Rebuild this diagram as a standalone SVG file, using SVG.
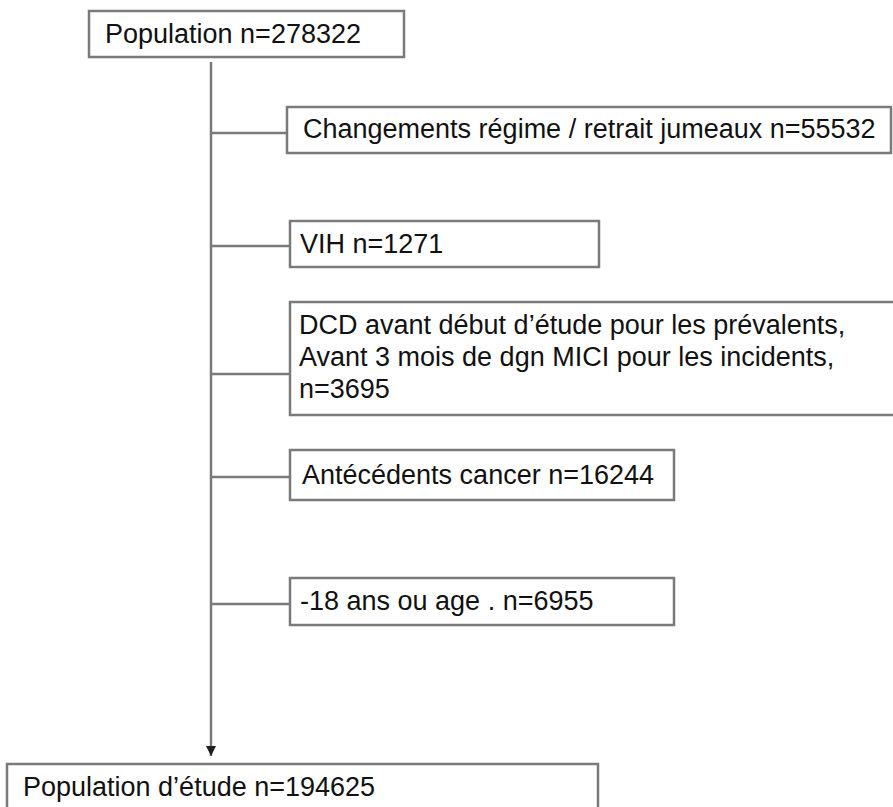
<svg xmlns="http://www.w3.org/2000/svg" width="893" height="807" viewBox="0 0 893 807">
<style>
.box{fill:#fff;stroke:#7a7a7a;stroke-width:2.5}
.lbl{font-family:"Liberation Sans",Arial,sans-serif;font-size:27px;fill:#111}
.con{stroke:#7a7a7a;stroke-width:2.5;fill:none}
</style>
<defs>
<marker id="arr" viewBox="0 0 10 10" refX="10" refY="5" markerWidth="4" markerHeight="4" orient="auto" markerUnits="strokeWidth">
<path d="M0,0 L10,5 L0,10 z" fill="#222"/>
</marker>
</defs>
<rect width="893" height="807" fill="#fff"/>
<g id="connectors">
<line class="con" x1="211" y1="62" x2="211" y2="756" marker-end="url(#arr)"/>
<line class="con" x1="211" y1="133" x2="287" y2="133"/>
<line class="con" x1="211" y1="246" x2="290" y2="246"/>
<line class="con" x1="211" y1="374" x2="290" y2="374"/>
<line class="con" x1="211" y1="477" x2="290" y2="477"/>
<line class="con" x1="211" y1="604" x2="290" y2="604"/>
</g>
<g id="n0">
<rect class="box" x="89" y="11" width="315" height="46"/>
<text class="lbl" x="105" y="43">Population n=278322</text>
</g>
<g id="n1">
<rect class="box" x="287" y="107" width="604" height="46"/>
<text class="lbl" x="303" y="138">Changements régime / retrait jumeaux n=55532</text>
</g>
<g id="n2">
<rect class="box" x="290" y="221" width="309" height="46"/>
<text class="lbl" x="300" y="253">VIH n=1271</text>
</g>
<g id="n3">
<rect class="box" x="290" y="302" width="615" height="113"/>
<text class="lbl" x="299" y="334">DCD avant début d’étude pour les prévalents,</text>
<text class="lbl" x="299" y="366">Avant 3 mois de dgn MICI pour les incidents,</text>
<text class="lbl" x="299" y="398">n=3695</text>
</g>
<g id="n4">
<rect class="box" x="290" y="450" width="384" height="50"/>
<text class="lbl" x="302" y="484">Antécédents cancer n=16244</text>
</g>
<g id="n5">
<rect class="box" x="290" y="578" width="384" height="47"/>
<text class="lbl" x="300" y="610">-18 ans ou age . n=6955</text>
</g>
<g id="n6">
<rect class="box" x="7" y="764" width="591" height="60"/>
<text class="lbl" x="23" y="796">Population d’étude n=194625</text>
</g>
</svg>
